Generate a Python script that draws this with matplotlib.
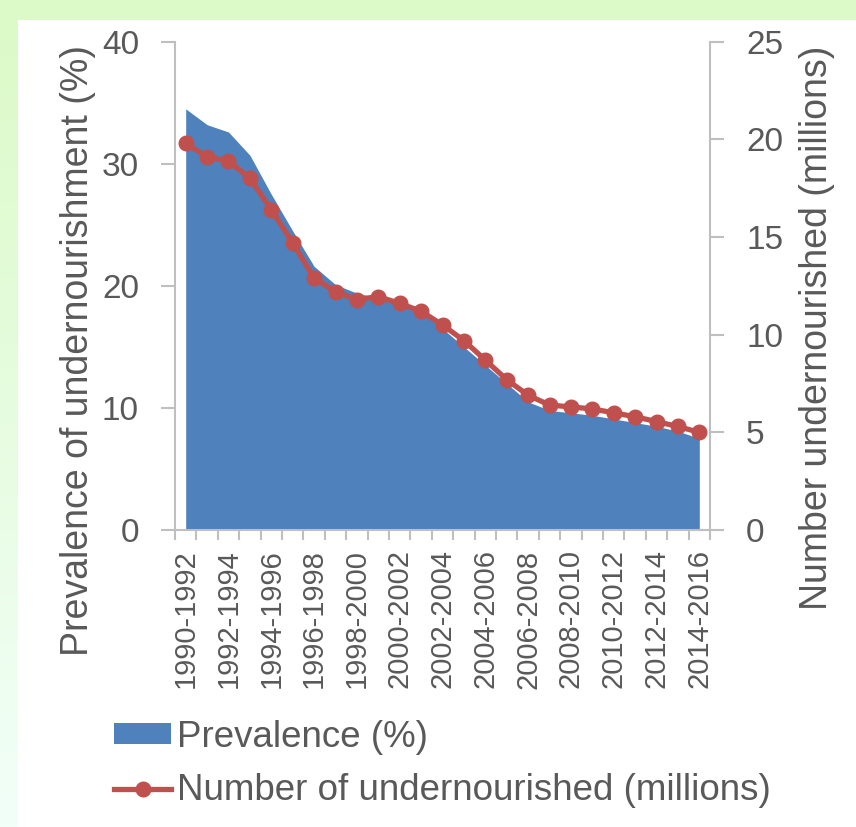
import numpy as np
import matplotlib
matplotlib.use('Agg')
import matplotlib.pyplot as plt
from matplotlib.patches import Rectangle, Patch
from matplotlib.lines import Line2D

plt.rcParams['font.family'] = ['Liberation Sans', 'DejaVu Sans']

periods = ['%d-%d' % (y, y + 2) for y in range(1990, 2015)]
prevalence = [34.5, 33.2, 32.6, 30.7, 27.5, 24.5, 21.6, 20.1, 19.4, 19.0,
              18.6, 17.9, 16.5, 15.0, 13.5, 12.0, 10.5, 9.8, 9.6, 9.4,
              9.1, 8.8, 8.5, 8.1, 7.5]
undernourished = [19.8, 19.1, 18.9, 18.0, 16.4, 14.7, 12.9, 12.2, 11.8, 11.95,
                  11.6, 11.2, 10.5, 9.7, 8.7, 7.7, 6.9, 6.4, 6.3, 6.2,
                  6.0, 5.8, 5.55, 5.3, 5.0]

blue = '#4F81BD'
red = '#C0504D'
grey_txt = '#595959'
grey_ax = '#BFBFBF'

W, H = 856, 827
fig = plt.figure(figsize=(W / 100, H / 100), dpi=100, facecolor='white')

# slide-style green frame: flat band on top, faded band down the left side
fig.patches.append(Rectangle((0, 1 - 20 / H), 1, 20 / H, transform=fig.transFigure,
                             facecolor='#DCFAC8', edgecolor='none', zorder=0))
bg = fig.add_axes([0, 0, 18 / W, 1 - 20 / H], zorder=-1)
grad = np.linspace(0, 1, 256)[:, None]
top_c = np.array([0xDC, 0xFA, 0xC8]) / 255
bot_c = np.array([0xF2, 0xFF, 0xF9]) / 255
bg.imshow(top_c + grad[:, :, None] * (bot_c - top_c), aspect='auto',
          extent=[0, 1, 0, 1])
bg.axis('off')

ax = fig.add_axes([175 / W, 1 - 530 / H, 535 / W, (530 - 41.7) / H])
x = np.arange(len(periods))

ax.fill_between(x, prevalence, 0, color=blue, linewidth=0, zorder=2)
ax.set_xlim(-0.5, len(periods) - 0.5)
ax.set_ylim(0, 40)
ax.set_yticks([0, 10, 20, 30, 40])

ax2 = ax.twinx()
ax2.plot(x, undernourished, color=red, linewidth=3.8, marker='o',
         markersize=10.5, zorder=3)
ax2.set_ylim(0, 25)
ax2.set_yticks([0, 5, 10, 15, 20, 25])

ax.set_xticks(x[::2])
ax.set_xticklabels(periods[::2], rotation=90, fontsize=21, color=grey_txt)
ax.set_xticks(np.arange(-0.5, len(periods)), minor=True)
ax.tick_params(axis='x', which='major', length=0, pad=14)
ax.tick_params(axis='x', which='minor', length=7, width=1.5, color=grey_ax)
ax.tick_params(axis='y', length=10, width=1.5, color=grey_ax, pad=16,
               labelsize=24, labelcolor=grey_txt)
ax2.tick_params(axis='y', length=10, width=1.5, color=grey_ax, pad=16,
                labelsize=24, labelcolor=grey_txt)

for a in (ax, ax2):
    a.spines['top'].set_visible(False)
    for s in ('left', 'right', 'bottom'):
        a.spines[s].set_color(grey_ax)
        a.spines[s].set_linewidth(1.5)
ax.spines['right'].set_visible(False)
ax2.spines['left'].set_visible(False)
ax2.spines['bottom'].set_visible(False)

fig.text(78 / W, 1 - 350 / H, 'Prevalence of undernourishment (%)', rotation=90,
         ha='center', va='center', fontsize=27, color=grey_txt)
fig.text(817 / W, 1 - 328 / H, 'Number undernourished (millions)', rotation=90,
         ha='center', va='center', fontsize=27, color=grey_txt)

handles = [Patch(facecolor=blue, edgecolor='none'),
           Line2D([], [], color=red, linewidth=3.8, marker='o', markersize=10.5)]
fig.legend(handles, ['Prevalence (%)', 'Number of undernourished (millions)'],
           loc='upper left', bbox_to_anchor=(114 / W, 1 - 720 / H),
           frameon=False, fontsize=26.5, labelcolor=grey_txt,
           handlelength=1.55, handleheight=0.5, handletextpad=0.15,
           labelspacing=0.5, borderaxespad=0, borderpad=0)

fig.savefig('out.png', dpi=100, facecolor='white')
